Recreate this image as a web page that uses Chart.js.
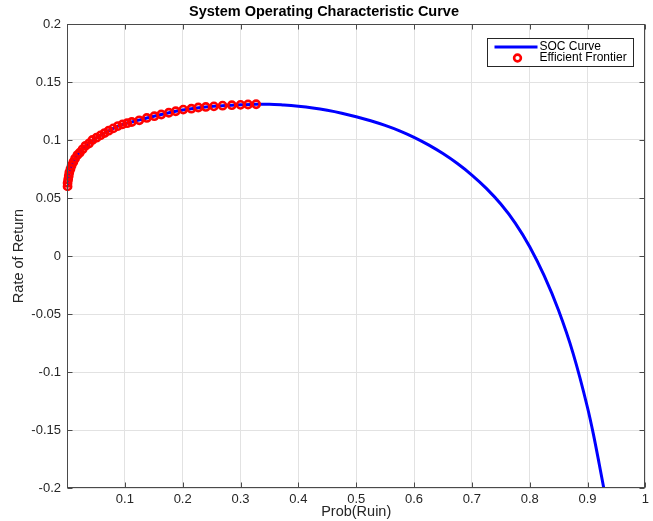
<!DOCTYPE html>
<html>
<head>
<meta charset="utf-8">
<script src="https://cdn.jsdelivr.net/npm/chart.js@4.4.1/dist/chart.umd.min.js"></script>
<style>
  html, body { margin: 0; padding: 0; background: #fff; }
  #wrap { width: 653px; height: 521px; }
</style>
</head>
<body>
<div id="wrap"><canvas id="socChart"></canvas></div>
<script>
// values
const socX = [0.001, 0.003, 0.006, 0.011, 0.018, 0.027, 0.038, 0.051, 0.065, 0.080,
  0.096, 0.112, 0.138, 0.163, 0.188, 0.215, 0.240, 0.269, 0.300, 0.327,
  0.350, 0.375, 0.400, 0.425, 0.450, 0.475, 0.500, 0.525, 0.550, 0.575,
  0.600, 0.625, 0.650, 0.675, 0.700, 0.725, 0.750, 0.775, 0.800, 0.825,
  0.850, 0.875, 0.900, 0.910, 0.920, 0.928];
const socY = [0.060, 0.069, 0.075, 0.081, 0.087, 0.092, 0.097, 0.102, 0.106, 0.110,
  0.1135, 0.1155, 0.119, 0.122, 0.1248, 0.127, 0.1285, 0.1296, 0.1303, 0.1308,
  0.1309, 0.1302, 0.1291, 0.1276, 0.1256, 0.1231, 0.1201, 0.1166, 0.1126, 0.1079,
  0.1023, 0.0958, 0.0883, 0.0797, 0.0698, 0.0583, 0.0448, 0.0284, 0.0080, -0.0170,
  -0.0470, -0.0839, -0.1308, -0.1533, -0.1788, -0.2000];

const frontierX = [0.001, 0.001, 0.002, 0.003, 0.004, 0.006, 0.008, 0.011, 0.014, 0.018,
  0.022, 0.027, 0.032, 0.038, 0.044, 0.051, 0.058, 0.065, 0.072, 0.080,
  0.088, 0.096, 0.104, 0.112, 0.125, 0.138, 0.151, 0.163, 0.176, 0.188,
  0.201, 0.215, 0.227, 0.240, 0.254, 0.269, 0.285, 0.300, 0.313, 0.327];
const frontierY = [0.060, 0.063, 0.066, 0.069, 0.072, 0.075, 0.078, 0.081, 0.084, 0.087,
  0.089, 0.092, 0.095, 0.097, 0.100, 0.102, 0.104, 0.106, 0.108, 0.110,
  0.112, 0.1135, 0.1145, 0.1155, 0.117, 0.119, 0.1205, 0.122, 0.1235, 0.1248,
  0.1262, 0.127, 0.128, 0.1285, 0.129, 0.1296, 0.130, 0.1303, 0.1306, 0.1308];

const xTicks = [0, 0.1, 0.2, 0.3, 0.4, 0.5, 0.6, 0.7, 0.8, 0.9, 1];
const yTicks = [-0.2, -0.15, -0.1, -0.05, 0, 0.05, 0.1, 0.15, 0.2];

const textColor = "#262626";
const font = "'Liberation Sans', Arial, Helvetica, sans-serif";

// box, inward ticks and the legend, MATLAB style
const matlabAxes = {
  id: "matlabAxes",
  afterDraw(chart) {
    const { ctx, chartArea: a, scales: { x, y } } = chart;
    const L = Math.round(a.left) + 0.5;
    const R = Math.round(a.right) - 0.5;
    const T = Math.round(a.top) + 0.5;
    const B = Math.round(a.bottom) - 0.5;
    ctx.save();
    ctx.strokeStyle = "#4a4a4a";
    ctx.lineWidth = 1;
    ctx.beginPath();
    xTicks.forEach((v) => {
      const px = Math.round(x.getPixelForValue(v)) + 0.5;
      ctx.moveTo(px, B); ctx.lineTo(px, B - 5);
      ctx.moveTo(px, T); ctx.lineTo(px, T + 5);
    });
    yTicks.forEach((v) => {
      const py = Math.round(y.getPixelForValue(v)) + 0.5;
      ctx.moveTo(L, py); ctx.lineTo(L + 5, py);
      ctx.moveTo(R, py); ctx.lineTo(R - 5, py);
    });
    ctx.stroke();
    ctx.strokeRect(L, T, R - L, B - T);

    // legend
    const [soc, frontier] = chart.data.datasets;
    const bw = 146, bh = 28;
    const bx = Math.round(a.right) - 12 - bw + 0.5;
    const by = Math.round(a.top) + 14 + 0.5;
    ctx.fillStyle = "#fff";
    ctx.fillRect(bx, by, bw, bh);
    ctx.strokeStyle = "#262626";
    ctx.strokeRect(bx, by, bw, bh);

    ctx.strokeStyle = soc.borderColor;
    ctx.lineWidth = 3;
    ctx.beginPath();
    ctx.moveTo(bx + 7, by + 8.5);
    ctx.lineTo(bx + 50, by + 8.5);
    ctx.stroke();

    ctx.strokeStyle = frontier.borderColor;
    ctx.lineWidth = 2.6;
    ctx.beginPath();
    ctx.arc(bx + 30, by + 19.5, 3.4, 0, Math.PI * 2);
    ctx.stroke();

    ctx.fillStyle = "#000";
    ctx.font = "12px " + font;
    ctx.textBaseline = "middle";
    ctx.textAlign = "left";
    ctx.fillText(soc.label, bx + 52, by + 8.5);
    ctx.fillText(frontier.label, bx + 52, by + 19);
    ctx.restore();
  }
};

new Chart(document.getElementById("socChart"), {
  type: "scatter",
  data: {
    datasets: [
      {
        label: "SOC Curve",
        data: socX.map((v, i) => ({ x: v, y: socY[i] })),
        showLine: true,
        borderColor: "#0000ff",
        borderWidth: 3,
        pointRadius: 0,
        cubicInterpolationMode: "monotone",
        order: 2
      },
      {
        label: "Efficient Frontier",
        data: frontierX.map((v, i) => ({ x: v, y: frontierY[i] })),
        showLine: false,
        borderColor: "#ff0000",
        backgroundColor: "rgba(0,0,0,0)",
        pointRadius: 3.6,
        pointBorderWidth: 2.6,
        borderWidth: 2.6,
        clip: false,
        order: 1
      }
    ]
  },
  options: {
    responsive: true,
    maintainAspectRatio: false,
    animation: false,
    devicePixelRatio: 1,
    events: [],
    layout: { padding: { left: 0, right: 5, top: 0, bottom: 0 } },
    plugins: {
      legend: { display: false },
      tooltip: { enabled: false },
      title: {
        display: true,
        text: "System Operating Characteristic Curve",
        color: "#000",
        font: { family: font, size: 14.5, weight: "bold", lineHeight: 1.2 },
        padding: { top: 3, bottom: 3.6 }
      }
    },
    scales: {
      x: {
        type: "linear",
        min: 0,
        max: 1,
        afterBuildTicks: (scale) => { scale.ticks = xTicks.map((v) => ({ value: v })); },
        afterFit: (scale) => { scale.height = 33; },
        grid: { color: "#e2e2e2", drawTicks: false },
        border: { display: false },
        ticks: {
          color: textColor,
          font: { family: font, size: 13 },
          padding: 4,
          maxRotation: 0,
          autoSkip: false,
          callback: (v) => (v === 0 ? "" : String(v))
        },
        title: {
          display: true,
          text: "Prob(Ruin)",
          color: textColor,
          font: { family: font, size: 14.5, lineHeight: 1.2 },
          padding: { top: 0, bottom: 0 }
        }
      },
      y: {
        type: "linear",
        min: -0.2,
        max: 0.2,
        afterBuildTicks: (scale) => { scale.ticks = yTicks.map((v) => ({ value: v })); },
        afterFit: (scale) => { scale.width = 67; },
        grid: { color: "#e2e2e2", drawTicks: false },
        border: { display: false },
        ticks: {
          color: textColor,
          font: { family: font, size: 13 },
          padding: 6,
          autoSkip: false,
          callback: (v) => String(v)
        },
        title: {
          display: true,
          text: "Rate of Return",
          color: textColor,
          font: { family: font, size: 14.5, lineHeight: 1.2 },
          padding: { top: 10, bottom: 0 }
        }
      }
    }
  },
  plugins: [matlabAxes]
});
</script>
</body>
</html>
